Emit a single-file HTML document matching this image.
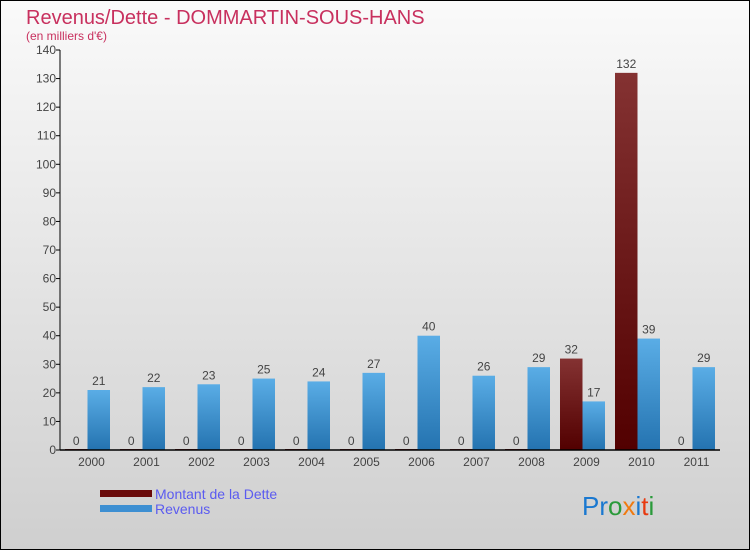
<!DOCTYPE html>
<html><head><meta charset="utf-8"><style>
body{margin:0;width:750px;height:550px;overflow:hidden;font-family:"Liberation Sans",sans-serif}
#wrap{position:relative;width:748px;height:548px;border:1px solid #000;background:linear-gradient(#fafafa,#cfcfcf)}
</style></head><body>
<div id="wrap">
<svg id="chart" width="748" height="548" viewBox="1 1 748 548" style="position:absolute;left:0;top:0">
<defs>
<linearGradient id="gb" x1="0" y1="0" x2="0" y2="1"><stop offset="0" stop-color="#5aade6"/><stop offset="1" stop-color="#2473b0"/></linearGradient>
<linearGradient id="gr" x1="0" y1="0" x2="0" y2="1"><stop offset="0" stop-color="#843232"/><stop offset="1" stop-color="#520000"/></linearGradient>
</defs>
<text x="26" y="24" font-size="20" fill="#c8305e">Revenus/Dette - DOMMARTIN-SOUS-HANS</text>
<text x="26" y="40" font-size="12" fill="#c8305e">(en milliers d'€)</text>
<g id="g"></g>
<text x="100" y="85" font-size="0"></text>
<rect x="100" y="490" width="52" height="7" fill="#6a0a0a"/>
<text x="155" y="499" font-size="14" fill="#5b5bf0">Montant de la Dette</text>
<rect x="100" y="505" width="52" height="7" fill="#3d8fd2"/>
<text x="155" y="514" font-size="14" fill="#5b5bf0">Revenus</text>
<g font-size="26" font-family="'Liberation Sans',sans-serif">
<text x="582" y="515"><tspan fill="#1a78d0">Pr</tspan><tspan fill="#2a9a3a">o</tspan><tspan fill="#f07a10">x</tspan><tspan fill="#1a78d0">i</tspan><tspan fill="#e83a10">t</tspan><tspan fill="#2a9a3a">i</tspan></text>
</g>
</svg>
</div>
<script>
const years=["2000","2001","2002","2003","2004","2005","2006","2007","2008","2009","2010","2011"];
const debt=[0,0,0,0,0,0,0,0,0,32,132,0];
const revenue=[21,22,23,25,24,27,40,26,29,17,39,29];
const yTicks=[0,10,20,30,40,50,60,70,80,90,100,110,120,130,140];
const NS="http://www.w3.org/2000/svg";
const g=document.getElementById('g');
const x0=60,x1=720,yb=450,yt=50,ymax=140;
const gw=(x1-x0)/years.length,bw=22.5;
function y(v){return yb-(v/ymax)*(yb-yt);}
function xc(i){return x0+gw*(i+0.5);}
function mk(t,a,txt){const e=document.createElementNS(NS,t);for(const k in a)e.setAttribute(k,a[k]);if(txt!==undefined)e.textContent=txt;g.appendChild(e);return e;}
yTicks.forEach(v=>{
 const l=mk('line',{x1:x0-4,x2:x0,y1:y(v),y2:y(v),stroke:'#000'});
 
 
 const t=mk('text',{x:x0-4,y:y(v)+4,'font-size':12,'text-anchor':'end',fill:'#444'},v);
 
 
});
years.forEach((yr,i)=>{
 const c=xc(i);
 const hd=Math.max(y(0)-y(debt[i]),1);
 const b1=mk('rect',{x:c-bw,y:y(0)-hd,width:bw,height:hd,fill:'url(#gr)'});
 
 
 const t1=mk('text',{x:c-bw/2,y:y(debt[i])-5,'font-size':12,'text-anchor':'middle',fill:'#444'},debt[i]);
 
 
 const b2=mk('rect',{x:c,y:y(revenue[i]),width:bw,height:y(0)-y(revenue[i]),fill:'url(#gb)'});
 
 
 const t2=mk('text',{x:c+bw/2,y:y(revenue[i])-5,'font-size':12,'text-anchor':'middle',fill:'#444'},revenue[i]);
 
 
 const xl=mk('text',{x:c+4,y:466,'font-size':12,'text-anchor':'middle',fill:'#444'},yr);
 
 
});
const ya=mk('line',{x1:x0,x2:x0,y1:yt,y2:yb,stroke:'#000'});


const xa=mk('line',{x1:x0,x2:x1,y1:yb,y2:yb,stroke:'#000','stroke-width':1.5});


</script>
</body></html>
